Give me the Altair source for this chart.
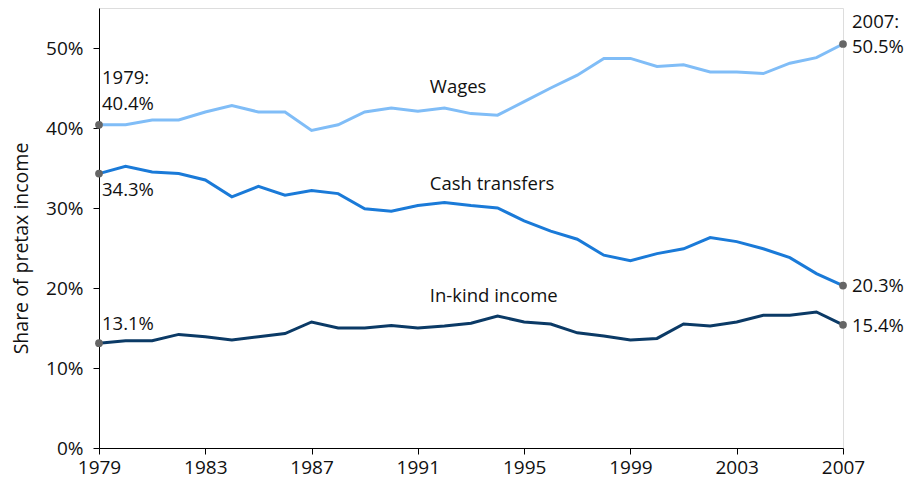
import altair as alt
import pandas as pd

years = list(range(1979, 2008))
wages = [40.4, 40.4, 41.0, 41.0, 42.0, 42.8, 42.0, 42.0, 39.7, 40.4, 42.0, 42.5, 42.1, 42.5, 41.8,
         41.6, 43.3, 45.0, 46.6, 48.7, 48.7, 47.7, 47.9, 47.0, 47.0, 46.8, 48.1, 48.8, 50.5]
cash = [34.3, 35.2, 34.5, 34.3, 33.5, 31.4, 32.7, 31.6, 32.2, 31.8, 29.9, 29.6, 30.3, 30.7, 30.3,
        30.0, 28.4, 27.1, 26.1, 24.1, 23.4, 24.3, 24.9, 26.3, 25.8, 24.9, 23.8, 21.8, 20.3]
inkind = [13.1, 13.4, 13.4, 14.2, 13.9, 13.5, 13.9, 14.3, 15.75, 15.0, 15.0, 15.3, 15.0, 15.25, 15.6,
          16.5, 15.75, 15.5, 14.4, 14.0, 13.5, 13.7, 15.5, 15.25, 15.75, 16.6, 16.6, 17.0, 15.4]
series_names = ["Wages", "Cash transfers", "In-kind income"]
series_colors = ["#80bdf7", "#1a7ad8", "#0b3a66"]

rows = []
for name, vals in zip(series_names, [wages, cash, inkind]):
    for y, v in zip(years, vals):
        rows.append({"year": y, "share": v, "series": name})
df = pd.DataFrame(rows)

ends = df[df["year"].isin([1979, 2007])]

# series name labels
name_df = pd.DataFrame({"year": [1991.45, 1991.45, 1991.45],
                        "share": [45.1, 33.0, 19.0],
                        "text": series_names})

# endpoint value labels
left_lab = pd.DataFrame({"year": [1979, 1979, 1979, 1979],
                         "share": [46.3, 43.0, 32.3, 15.5],
                         "text": ["1979:", f"{wages[0]}%", f"{cash[0]}%", f"{inkind[0]}%"]})
right_lab = pd.DataFrame({"year": [2007, 2007, 2007, 2007],
                          "share": [53.3, 50.1, 20.25, 15.25],
                          "text": ["2007:", f"{wages[-1]}%", f"{cash[-1]}%", f"{inkind[-1]}%"]})

FONT = "Open Sans"
FS = 18.5

xs = alt.X("year:Q", scale=alt.Scale(domain=[1979, 2007], nice=False, zero=False),
           axis=alt.Axis(values=list(range(1979, 2008, 4)), format="d", title=None, grid=False,
                         domainColor="#000", tickColor="#000", tickSize=6, labelFontSize=19,
                         labelFont=FONT, labelColor="#111", labelPadding=4,
                         labelFlush=False))
ys = alt.Y("share:Q", scale=alt.Scale(domain=[0, 55], nice=False),
           axis=alt.Axis(values=[0, 10, 20, 30, 40, 50], labelExpr="datum.value + '%'",
                         title="Share of pretax income", titleFontSize=19.5, titleFont=FONT,
                         titleFontWeight="normal", titleColor="#111", titlePadding=14, titleY=240,
                         grid=False, domainColor="#000", tickColor="#000", tickSize=6,
                         labelFontSize=19, labelFont=FONT, labelColor="#111", labelPadding=10))

lines = alt.Chart(df).mark_line(strokeWidth=3).encode(
    x=xs, y=ys,
    color=alt.Color("series:N", scale=alt.Scale(domain=series_names, range=series_colors), legend=None),
)
dots = alt.Chart(ends).mark_circle(size=60, color="#666666", opacity=1).encode(x="year:Q", y="share:Q")
names = alt.Chart(name_df).mark_text(align="left", baseline="middle", fontSize=FS, font=FONT,
                                     color="#111").encode(x="year:Q", y="share:Q", text="text:N")
lt = alt.Chart(left_lab).mark_text(align="left", baseline="middle", dx=3, fontSize=FS, font=FONT,
                                   color="#111").encode(x="year:Q", y="share:Q", text="text:N")
rt = alt.Chart(right_lab).mark_text(align="left", baseline="middle", dx=9, fontSize=FS, font=FONT,
                                    color="#111").encode(x="year:Q", y="share:Q", text="text:N")

chart = alt.layer(lines, dots, names, lt, rt).properties(
    width=744, height=440,
    autosize=alt.AutoSizeParams(type="none"),
    padding={"left": 91, "top": 0, "right": 62, "bottom": 30},
).configure_view(stroke=None).configure(background="white")

chart.save("out.html", embed_options={"renderer": "svg", "actions": False})
